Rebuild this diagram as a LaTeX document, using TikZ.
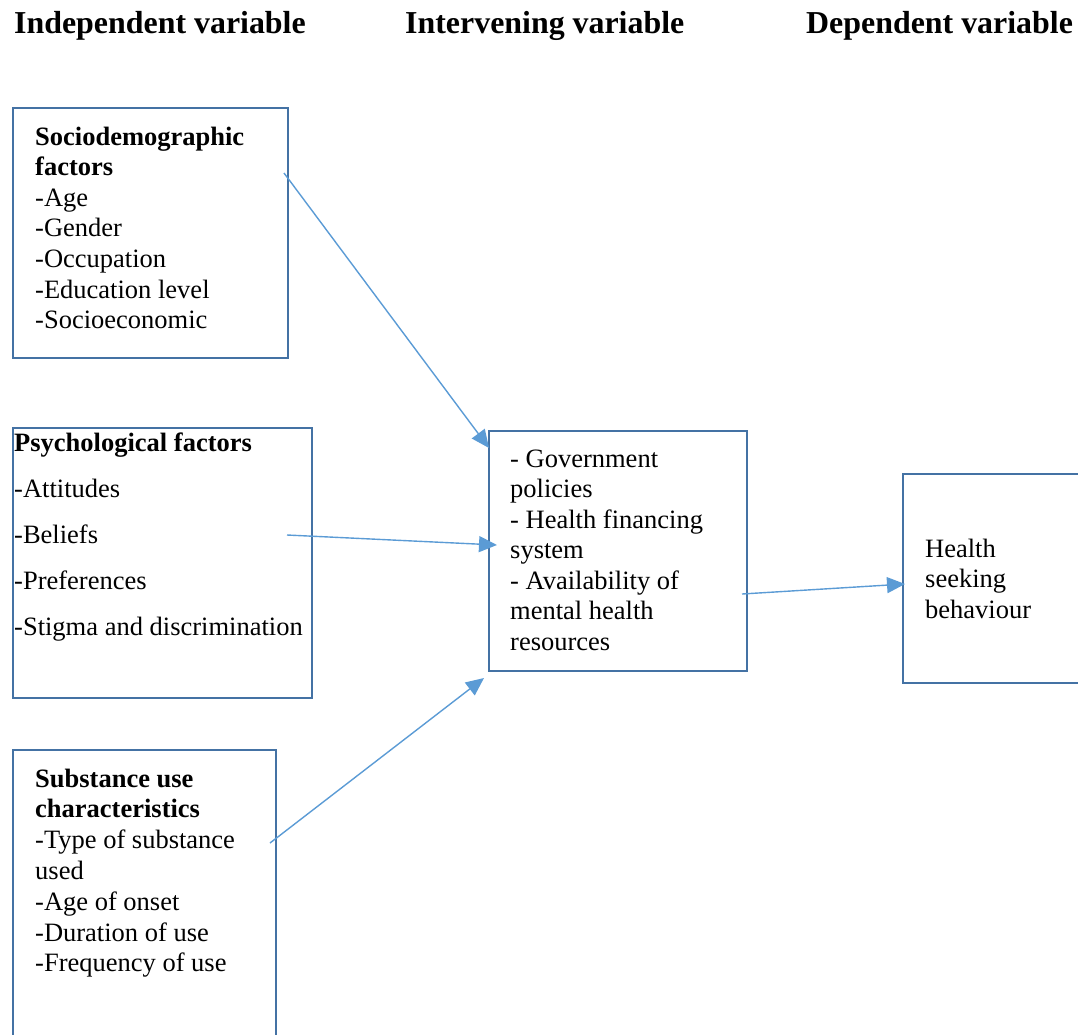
\documentclass[tikz,border=0pt]{standalone}
\usepackage{fontspec}
\setmainfont{Liberation Serif}
\usetikzlibrary{arrows.meta,calc}
\definecolor{boxc}{HTML}{4472A4}
\definecolor{arrc}{HTML}{5B9BD5}
\begin{document}
\begin{tikzpicture}[x=1pt,y=1pt,
  box/.style={draw=boxc, line width=2.6pt, inner sep=0pt, outer sep=0pt, anchor=north west},
  txt/.style={anchor=base west, inner sep=0pt, font=\fontsize{26.5}{31}\selectfont},
  head/.style={anchor=base west, inner sep=0pt, font=\fontsize{31.9}{36}\selectfont\bfseries},
  conn/.style={draw=arrc, line width=1.4pt, -{Triangle[length=18pt,width=16pt]}}]
\useasboundingbox (0,0) rectangle (1078,-1034);
% headers
\node[head] (h1) at (14,-33) {Independent variable};
\node[head] (h2) at (405,-33) {Intervening variable};
\node[head] (h3) at (806,-33) {Dependent variable};
% boxes
\node[box, minimum width=275, minimum height=250] (b1) at (13,-108) {};
\node[box, minimum width=299, minimum height=270] (b2) at (13,-428) {};
\node[box, minimum width=263, minimum height=300] (b3) at (13,-750) {};
\node[box, minimum width=258, minimum height=240] (m) at (489,-431) {};
\node[box, minimum width=190, minimum height=209] (d) at (903,-474) {};
% box 1 text
\foreach \t [count=\i] in {{\bfseries Sociodemographic},{\bfseries factors},-Age,-Gender,-Occupation,-Education level,-Socioeconomic}
  \node[txt] (b1t\i) at (35,{-145-30.6*(\i-1)}) {\t};
% box 2 text
\foreach \t [count=\i] in {{\bfseries Psychological factors},-Attitudes,-Beliefs,-Preferences,-Stigma and discrimination}
  \node[txt] (b2t\i) at (14,{-451-46*(\i-1)}) {\t};
% box 3 text
\foreach \t [count=\i] in {{\bfseries Substance use},{\bfseries characteristics},-Type of substance,used,-Age of onset,-Duration of use,-Frequency of use}
  \node[txt] (b3t\i) at (35,{-787-30.8*(\i-1)}) {\t};
% middle text
\foreach \t [count=\i] in {- Government,policies,- Health financing,system,- Availability of,mental health,resources}
  \node[txt] (mt\i) at (510,{-467-30.5*(\i-1)}) {\t};
% dependent text
\foreach \t [count=\i] in {Health,seeking,behaviour}
  \node[txt] (dt\i) at (925,{-557-30.5*(\i-1)}) {\t};
% connector ends
\coordinate (s1) at ($(b1.north east)+(-4,-65)$);
\coordinate (e1) at ($(m.north west)+(0,-17)$);
\coordinate (s2) at ($(b2.north east)+(-25,-107)$);
\coordinate (e2) at ($(m.north west)+(8,-114)$);
\coordinate (s3) at ($(b3.north east)+(-6,-93)$);
\coordinate (e3) at ($(m.south west)+(-5,-7)$);
\coordinate (s4) at ($(m.north east)+(-5,-163)$);
\coordinate (e4) at ($(d.north west)+(2,-110)$);
\draw[conn] (s1) -- (e1);
\draw[conn] (s2) -- (e2);
\draw[conn] (s3) -- (e3);
\draw[conn] (s4) -- (e4);
\end{tikzpicture}
\end{document}
